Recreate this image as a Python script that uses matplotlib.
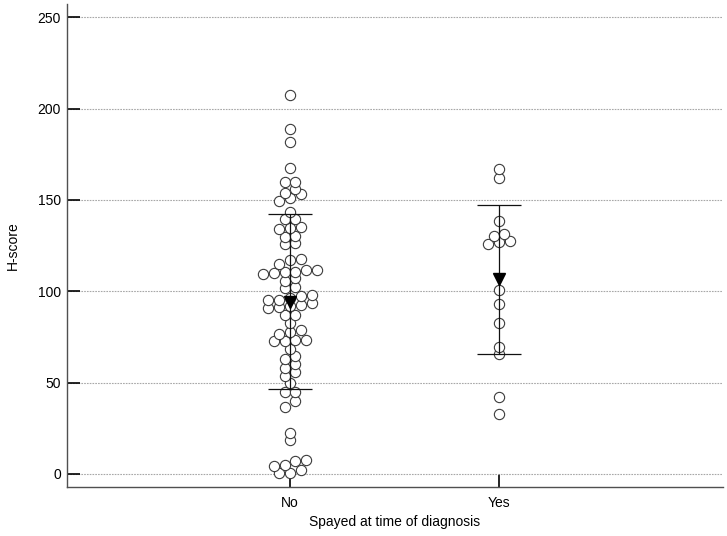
import numpy as np
import matplotlib
matplotlib.use("Agg")
import matplotlib.pyplot as plt

plt.rcParams['font.family'] = ['Liberation Sans', 'DejaVu Sans']

# ---- data ----
categories = ["No", "Yes"]
no_values = [207.4, 188.6, 181.9, 167.3,
             160.0, 159.6, 155.8, 154.0, 153.1, 150.9, 149.6,
             143.2, 139.7, 139.4, 135.0, 134.8, 133.9, 130.5, 129.7, 126.3, 125.9,
             117.5, 117.3, 114.8,
             111.8, 111.7, 110.7, 110.4, 109.8, 109.3,
             107.4, 105.6, 102.4, 101.8,
             98.0, 97.6, 96.5, 95.2, 95.2,
             93.4, 92.5, 92.0, 91.6, 90.8,
             86.8, 86.8, 82.8, 78.8, 77.7, 76.8,
             73.6, 73.4, 72.8, 72.6,
             68.5, 64.8, 62.9, 60.2, 57.8, 56.0, 53.6, 50.0,
             45.0, 45.0, 40.1, 36.8,
             22.6, 18.6,
             7.7, 7.3, 4.9, 4.4, 2.2, 0.4, 0.4]
yes_values = [166.8, 161.8, 138.6, 131.4, 130.3, 127.7, 127.1, 125.7,
              100.7, 93.0, 82.5, 69.7, 65.7, 42.0, 32.8]
group_means = [94.4, 106.5]
group_sds = [48.1, 40.8]
y_ticks = [0, 50, 100, 150, 200, 250]

W, H = 727, 536
fig = plt.figure(figsize=(W / 100, H / 100), dpi=100)
ax = fig.add_axes([67 / W, (H - 487.3) / H, (723 - 67) / W, (487.3 - 4) / H])
ax.set_xlim(-1.067, 2.072)
ax.set_ylim(-7.3, 257.3)

for s in ["top", "right"]:
    ax.spines[s].set_visible(False)
for s in ["left", "bottom"]:
    ax.spines[s].set_color("#505050")
    ax.spines[s].set_linewidth(1.0)

ax.set_yticks(y_ticks)
ax.set_yticklabels([str(t) for t in y_ticks])
ax.set_xticks(range(len(categories)))
ax.set_xticklabels(categories)
ax.tick_params(axis="both", direction="in", length=9.5, width=1.2, color="black",
               labelsize=10, labelcolor="black")
ax.tick_params(axis="y", pad=4.5)
ax.tick_params(axis="x", pad=6)
ax.yaxis.grid(True, color="#a8a8a8", linestyle=(0, (1.5, 1)), linewidth=0.8)
ax.set_axisbelow(True)

ax.set_xlabel("Spayed at time of diagnosis", fontsize=10, labelpad=4)
ax.set_ylabel("H-score", fontsize=10)
ax.yaxis.set_label_coords(-0.072, 0.5)

# ---- dot-plot layout: group close values into rows, centre each row ----
d_px = 10.8          # horizontal spacing between dots in a row (pixels)
row_span = 3.6       # values within this span (from a row's lowest) share a row
trans = ax.transData
px_per_x = trans.transform((1, 0))[0] - trans.transform((0, 0))[0]


def dot_layout(values, center):
    vals = np.sort(np.asarray(values, float))
    xs, ys = [], []
    i = 0
    while i < len(vals):
        j = i
        while j + 1 < len(vals) and vals[j + 1] - vals[i] <= row_span:
            j += 1
        row = vals[i:j + 1]
        n = len(row)
        for k, v in enumerate(row):
            xs.append(center + (k - (n - 1) / 2) * d_px / px_per_x)
            ys.append(v)
        i = j + 1
    return np.array(xs), np.array(ys)


for ci, vals in enumerate([no_values, yes_values]):
    xs, ys = dot_layout(vals, ci)
    ax.plot(xs, ys, linestyle="none", marker="o", markersize=7.4,
            markerfacecolor="white", markeredgecolor="#3c3c3c",
            markeredgewidth=0.8, zorder=3)

ax.errorbar(range(len(categories)), group_means, yerr=group_sds, fmt="none",
            ecolor="#111111", elinewidth=0.9, capsize=15.8, capthick=0.9, zorder=4)
ax.plot(range(len(categories)), group_means, linestyle="none", marker="v",
        markersize=8.5, color="black", zorder=5)

fig.savefig("out.png", dpi=100)
